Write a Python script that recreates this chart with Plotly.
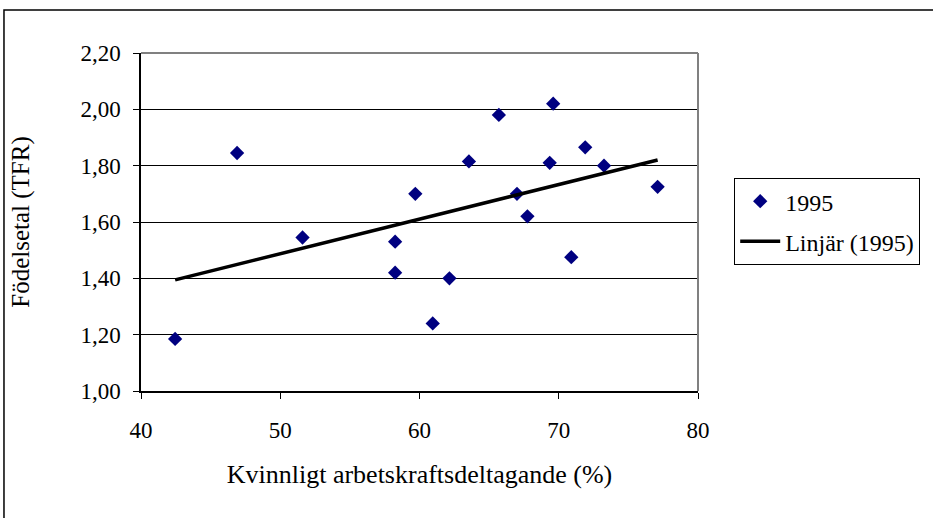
import numpy as np
import plotly.graph_objects as go

participation = [42.45, 46.9, 51.6, 58.25, 58.25, 59.7, 62.15, 60.95, 63.55, 65.7,
                 67.0, 67.75, 69.6, 69.35, 70.9, 71.9, 73.25, 77.1]
tfr = [1.185, 1.845, 1.545, 1.53, 1.42, 1.70, 1.40, 1.24, 1.815, 1.98,
       1.70, 1.62, 2.02, 1.81, 1.475, 1.865, 1.80, 1.725]

x_ticks = [40, 50, 60, 70, 80]
y_ticks = [1.0, 1.2, 1.4, 1.6, 1.8, 2.0, 2.2]

slope, intercept = np.polyfit(participation, tfr, 1)
xt = [min(participation), max(participation)]
yt = [slope * v + intercept for v in xt]

font = "Liberation Serif, Times New Roman, serif"

fig = go.Figure()
fig.add_trace(go.Scatter(x=participation, y=tfr, mode="markers", name="1995",
                         legendgroup="a",
                         marker=dict(symbol="diamond", size=11, color="#000080")))
fig.add_trace(go.Scatter(x=xt, y=yt, mode="lines", name="Linjär (1995)",
                         legendgroup="b",
                         line=dict(color="black", width=3.5)))

fig.update_layout(
    width=933, height=518,
    margin=dict(l=141, r=235, t=53, b=127),
    paper_bgcolor="white", plot_bgcolor="white",
    separators=", ",
    font=dict(family=font, size=23, color="black"),
    showlegend=True,
    legend=dict(x=1.065, y=0.63, xanchor="left", yanchor="top",
                bordercolor="black", borderwidth=1, bgcolor="white",
                font=dict(family=font, size=24), tracegroupgap=6,
                traceorder="grouped", itemwidth=40),
    xaxis=dict(range=[40, 80], tickvals=x_ticks, showgrid=False, zeroline=False,
               showline=True, linecolor="black", linewidth=1.5,
               ticks="outside", ticklen=6, tickcolor="black",
               ticklabelstandoff=12,
               tickfont=dict(family=font, size=23),
               title=dict(text="Kvinnligt arbetskraftsdeltagande (%)", standoff=22,
                          font=dict(family=font, size=26))),
    yaxis=dict(range=[1.0, 2.2], tickvals=y_ticks, tickformat=".2f",
               showgrid=True, gridcolor="black", gridwidth=1, zeroline=False,
               showline=True, linecolor="black", linewidth=1.5,
               ticks="outside", ticklen=6, tickcolor="black",
               ticklabelstandoff=8,
               tickfont=dict(family=font, size=23),
               title=dict(text="Födelsetal (TFR)", standoff=44,
                          font=dict(family=font, size=25))),
    shapes=[
        dict(type="line", xref="paper", yref="paper", x0=0, x1=1, y0=1, y1=1,
             line=dict(color="#808080", width=2)),
        dict(type="line", xref="paper", yref="paper", x0=1, x1=1, y0=0, y1=1,
             line=dict(color="#808080", width=2)),
        dict(type="rect", xref="paper", yref="paper", x0=-0.246, x1=1.6,
             y0=-0.6, y1=1.127, line=dict(color="black", width=1.5)),
    ],
)

fig.write_html("out.html", config={"displayModeBar": False},
               post_script="document.body.style.margin='0';document.body.style.padding='0';")
